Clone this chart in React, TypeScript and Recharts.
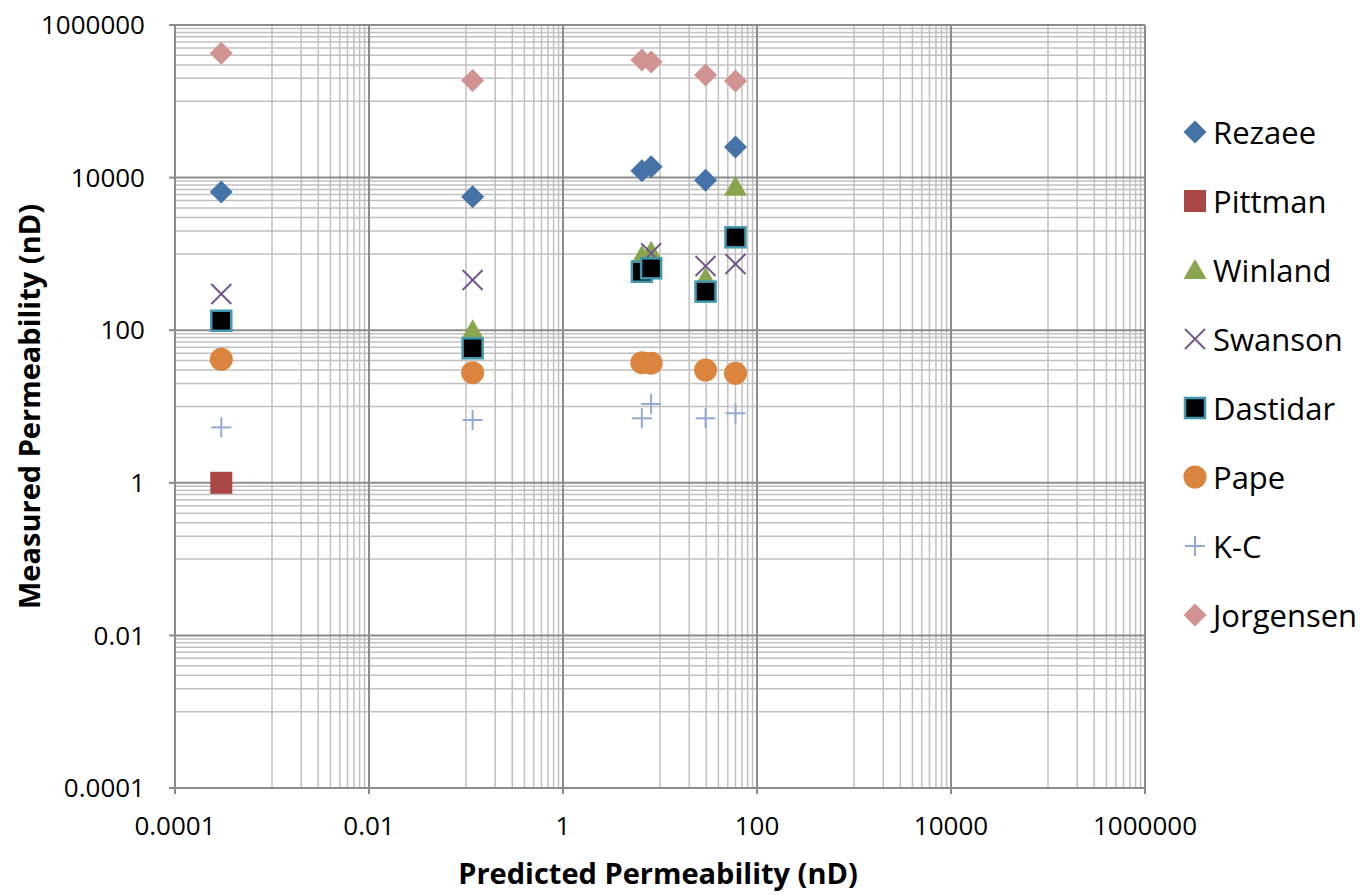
import React from "react";
import {
  ScatterChart,
  Scatter,
  XAxis,
  YAxis,
  CartesianGrid,
  Label,
} from "recharts";

// predicted permeability (nD) of the six samples, shared by every model
const predicted = [0.0003, 0.117, 6.5, 8.1, 29.5, 60];

// measured permeability (nD) per model
const rezaee = [6470, 5620, 12300, 13900, 9230, 25200];
const pittman = [1.0];
const winland = [125, 100, 940, 1070, 480, 7600];
const swanson = [298, 455, 600, 1020, 695, 738];
const dastidar = [133, 58, 584, 647, 320, 1650];
const pape = [41.5, 27.7, 37.5, 37, 30, 27.2];
const kc = [5.33, 6.65, 7.0, 10.8, 7.0, 8.15];
const jorgensen = [426000, 188000, 348000, 327000, 221000, 185000];

const ticks = [0.0001, 0.01, 1, 100, 10000, 1000000];

// minor grid: 1..9 x the middle decade of every labelled interval
const minorLines = ticks
  .slice(0, -1)
  .flatMap((t) => [1, 2, 3, 4, 5, 6, 7, 8, 9].map((n) => n * t * 10));

type Kind = "diamond" | "square" | "triangle" | "x" | "box" | "circle" | "plus";

const SERIES: { name: string; values: number[]; kind: Kind; color: string }[] = [
  { name: "Rezaee", values: rezaee, kind: "diamond", color: "#4572A7" },
  { name: "Pittman", values: pittman, kind: "square", color: "#AA4643" },
  { name: "Winland", values: winland, kind: "triangle", color: "#89A54E" },
  { name: "Swanson", values: swanson, kind: "x", color: "#71588F" },
  { name: "Dastidar", values: dastidar, kind: "box", color: "#4198AF" },
  { name: "Pape", values: pape, kind: "circle", color: "#DB843D" },
  { name: "K-C", values: kc, kind: "plus", color: "#93A9CF" },
  { name: "Jorgensen", values: jorgensen, kind: "diamond", color: "#D19392" },
];

const FONT = "'Open Sans', sans-serif";

function Marker({ kind, cx, cy, color }: { kind: Kind; cx: number; cy: number; color: string }) {
  switch (kind) {
    case "diamond":
      return (
        <polygon
          points={`${cx},${cy - 11.5} ${cx + 11.5},${cy} ${cx},${cy + 11.5} ${cx - 11.5},${cy}`}
          fill={color}
        />
      );
    case "square":
      return <rect x={cx - 11} y={cy - 11} width={22} height={22} fill={color} />;
    case "triangle":
      return (
        <polygon
          points={`${cx},${cy - 11} ${cx + 11.5},${cy + 9} ${cx - 11.5},${cy + 9}`}
          fill={color}
        />
      );
    case "x":
      return (
        <g stroke={color} strokeWidth={2}>
          <line x1={cx - 10} y1={cy - 10} x2={cx + 10} y2={cy + 10} />
          <line x1={cx - 10} y1={cy + 10} x2={cx + 10} y2={cy - 10} />
        </g>
      );
    case "box":
      return (
        <rect x={cx - 10} y={cy - 10} width={20} height={20} fill="#000" stroke={color} strokeWidth={2.5} />
      );
    case "circle":
      return <circle cx={cx} cy={cy} r={11.5} fill={color} />;
    case "plus":
      return (
        <g stroke={color} strokeWidth={2}>
          <line x1={cx - 10} y1={cy} x2={cx + 10} y2={cy} />
          <line x1={cx} y1={cy - 10} x2={cx} y2={cy + 10} />
        </g>
      );
  }
  return null;
}

const fmt = (v: number) => String(v);

export default function App() {
  return (
    <div
      style={{
        position: "absolute",
        left: 0,
        top: 0,
        width: 1360,
        height: 895,
        background: "#fff",
        overflow: "hidden",
      }}
    >
      <ScatterChart width={1360} height={895} margin={{ top: 25, right: 215, bottom: 0, left: 0 }}>
        <CartesianGrid
          stroke="#c0c0c0"
          strokeWidth={1.5}
          verticalValues={minorLines}
          horizontalValues={minorLines}
        />
        <CartesianGrid stroke="#8c8c8c" strokeWidth={2} verticalValues={ticks} horizontalValues={ticks} />
        <XAxis
          type="number"
          dataKey="x"
          scale="log"
          domain={[0.0001, 1000000]}
          ticks={ticks}
          interval={0}
          tickFormatter={fmt}
          height={107}
          stroke="#8c8c8c"
          strokeWidth={2}
          tickSize={6}
          tickMargin={23}
          tick={{ fill: "#000", fontSize: 26, fontFamily: FONT }}
        >
          <Label
            content={({ viewBox }: any) => (
              <text
                x={viewBox.x + viewBox.width / 2 - 2}
                y={viewBox.y + 96}
                textAnchor="middle"
                fontFamily={FONT}
                fontWeight={700}
                fontSize={29}
                fill="#000"
              >
                Predicted Permeability (nD)
              </text>
            )}
          />
        </XAxis>
        <YAxis
          type="number"
          dataKey="y"
          scale="log"
          domain={[0.0001, 1000000]}
          ticks={ticks}
          interval={0}
          tickFormatter={fmt}
          width={175}
          stroke="#8c8c8c"
          strokeWidth={2}
          tickSize={6}
          tickMargin={24}
          tick={{ fill: "#000", fontSize: 26, fontFamily: FONT }}
        >
          <Label
            content={({ viewBox }: any) => {
              const x = viewBox.x + 40;
              const y = viewBox.y + viewBox.height / 2;
              return (
                <text
                  x={x}
                  y={y}
                  transform={`rotate(-90, ${x}, ${y})`}
                  textAnchor="middle"
                  fontFamily={FONT}
                  fontWeight={700}
                  fontSize={29}
                  fill="#000"
                >
                  Measured Permeability (nD)
                </text>
              );
            }}
          />
        </YAxis>
        {SERIES.map((s) => (
          <Scatter
            key={s.name}
            name={s.name}
            data={s.values.map((v, i) => ({ x: predicted[i], y: v }))}
            isAnimationActive={false}
            shape={(p: any) => <Marker kind={s.kind} cx={p.cx} cy={p.cy} color={s.color} />}
          />
        ))}
      </ScatterChart>
      <div style={{ position: "absolute", left: 1183, top: 97.5 }}>
        {SERIES.map((s) => (
          <div
            key={s.name}
            style={{ display: "flex", alignItems: "center", height: 69, whiteSpace: "nowrap" }}
          >
            <svg width={24} height={24} style={{ marginRight: 6 }}>
              <Marker kind={s.kind} cx={12} cy={12} color={s.color} />
            </svg>
            <span style={{ fontFamily: FONT, fontSize: 31, color: "#000" }}>{s.name}</span>
          </div>
        ))}
      </div>
    </div>
  );
}
